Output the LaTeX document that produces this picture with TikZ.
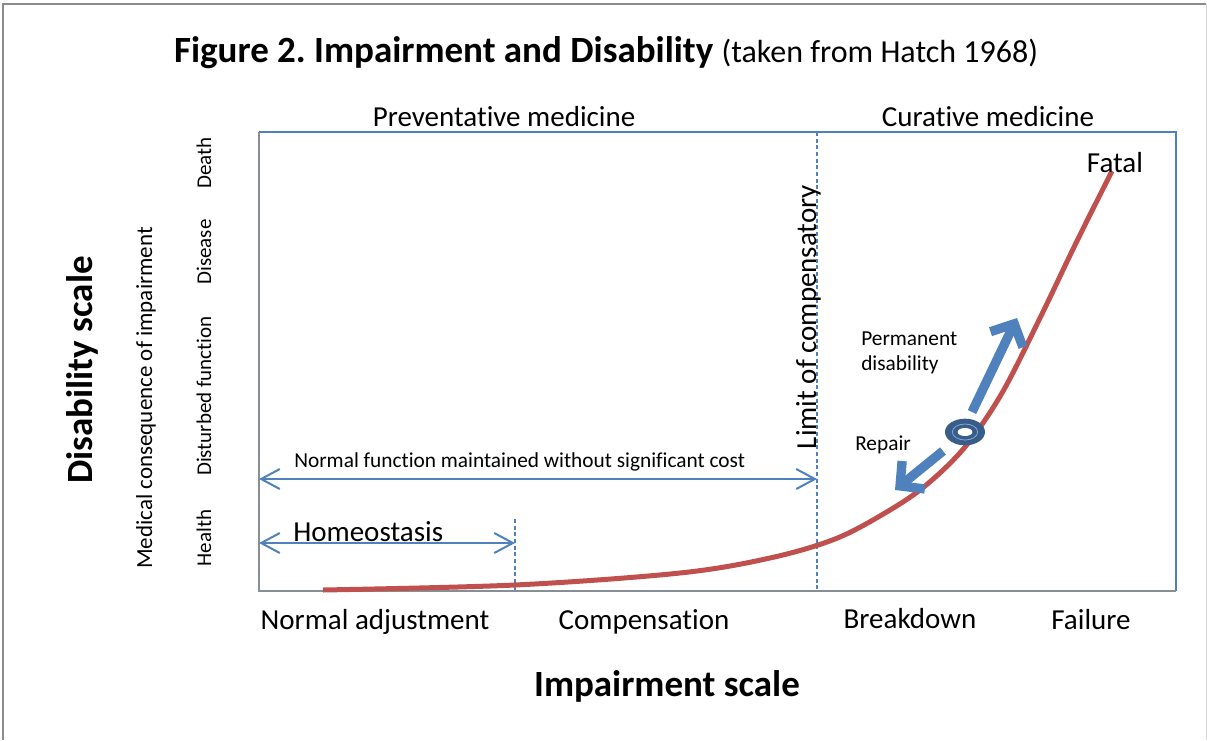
\documentclass[tikz,border=0pt]{standalone}
\usepackage{fontspec}
\setmainfont{Carlito}[Ligatures=NoCommon]
\usetikzlibrary{arrows.meta}

\definecolor{boxblue}{RGB}{79,129,189}
\definecolor{axisgray}{RGB}{134,142,150}
\definecolor{curvered}{RGB}{192,80,77}
\definecolor{ringblue}{RGB}{56,93,138}

\newcommand{\bigbold}{\fontsize{27.75pt}{33pt}\selectfont\bfseries}
\newcommand{\titlerest}{\fontsize{24pt}{29pt}\selectfont\mdseries}
\newcommand{\mainsize}{\fontsize{21.75pt}{26pt}\selectfont}
\newcommand{\midsize}{\fontsize{17.25pt}{21pt}\selectfont}
\newcommand{\smallsize}{\fontsize{15.75pt}{19pt}\selectfont}
\newcommand{\notesize}{\fontsize{16pt}{19pt}\selectfont}
\frenchspacing

\begin{document}
\begin{tikzpicture}[x=0.75pt,y=-0.75pt,
  lbl/.style={inner sep=0pt,anchor=base},
  vlbl/.style={inner sep=0pt,anchor=base,rotate=90},
  spanarrow/.style={boxblue,line width=1.5pt,
    {Straight Barb[length=14pt,width=15pt]}-{Straight Barb[length=14pt,width=15pt]}},
  limitline/.style={boxblue,line width=1.1pt,dash pattern=on 3pt off 2pt},
  fatearrow/.style={boxblue,line width=7pt,
    -{Straight Barb[length=13pt,width=27pt,line join=miter]}}]
  \useasboundingbox (0,0) rectangle (1207,740);
  \draw[gray!90,line width=2.2pt] (3,740) -- (3,4) -- (1206,4);
  \draw[gray!30,line width=0.75pt] (1206,4) -- (1206,740);

  \node[lbl,font=\bigbold] (title) at (606,62)
    {Figure 2. Impairment and Disability {\titlerest(taken from Hatch 1968)}};
  \node[lbl,font=\mainsize] (prev) at (504,126) {Preventative medicine};
  \node[lbl,font=\mainsize] (cur) at (988,126) {Curative medicine};

  \coordinate (nw) at (259,132);
  \coordinate (ne) at (1176,132);
  \coordinate (se) at (1176,591);
  \coordinate (sw) at (259,591);
  \draw[boxblue,line width=1.5pt] (nw) -- (ne) -- (se);
  \draw[axisgray,line width=2.2pt] (nw) -- (sw) -- (se);

  \coordinate (limtop) at (817,132);
  \coordinate (limbot) at (817,591);
  \coordinate (homtop) at (515,519);
  \coordinate (hombot) at (515,591);
  \draw[limitline] (limtop) -- (limbot);
  \draw[limitline] (homtop) -- (hombot);

  \draw[curvered,line width=3.75pt] plot[smooth,tension=0.55] coordinates
    {(323,590) (515,585) (680,573) (770,558) (835,539) (885,513) (925,486)
     (965,447) (1002,393) (1040,318) (1076,243) (1112,171)};

  \coordinate (nfl) at (259,479);
  \coordinate (nfr) at (817,479);
  \coordinate (hl) at (259,543);
  \coordinate (hr) at (515,543);
  \draw[spanarrow] (nfl) -- (nfr);
  \draw[spanarrow] (hl) -- (hr);
  \node[lbl,font=\notesize,anchor=base west] (nfc) at (294,467)
    {Normal function maintained without significant cost};
  \node[lbl,font=\mainsize,anchor=base west] (homeo) at (293,541) {Homeostasis};

  \node[vlbl,font=\mainsize] (limit) at (816,317) {Limit of compensatory};
  \node[lbl,font=\mainsize] (fatal) at (1115,172) {Fatal};

  \coordinate (ring) at (965,432);
  \coordinate (upstart) at (972,412);
  \coordinate (uptip) at (1017,318);
  \coordinate (dnstart) at (943,451);
  \coordinate (dntip) at (895,490);
  \draw[fatearrow] (upstart) -- (uptip);
  \draw[fatearrow] (dnstart) -- (dntip);
  \fill[ringblue] (ring) ellipse [x radius=15pt,y radius=10pt];
  \draw[boxblue!70!white,line width=0.6pt] (ring) ellipse [x radius=9.5pt,y radius=6pt];
  \fill[white] (ring) ellipse [x radius=5.5pt,y radius=3pt];
  \node[lbl,font=\notesize,anchor=base west] (perm) at (861,345) {Permanent};
  \node[lbl,font=\notesize,anchor=base west] (perm2) at (861,370) {disability};
  \node[lbl,font=\notesize,anchor=base west] (repair) at (855,450) {Repair};

  \node[vlbl,font=\bigbold] (disab) at (92,370) {Disability scale};
  \node[vlbl,font=\midsize] (medcon) at (152,398) {Medical consequence of impairment};
  \node[vlbl,font=\smallsize] (death) at (211,163) {Death};
  \node[vlbl,font=\smallsize] (disease) at (211,252) {Disease};
  \node[vlbl,font=\smallsize] (disturbed) at (211,396) {Disturbed function};
  \node[vlbl,font=\smallsize] (health) at (211,538) {Health};

  \node[lbl,font=\mainsize] (normadj) at (375,629) {Normal adjustment};
  \node[lbl,font=\mainsize] (comp) at (644,629) {Compensation};
  \node[lbl,font=\mainsize] (brk) at (910,628) {Breakdown};
  \node[lbl,font=\mainsize] (fail) at (1091,629) {Failure};
  \node[lbl,font=\bigbold] (impsc) at (667,696) {Impairment scale};
\end{tikzpicture}
\end{document}
